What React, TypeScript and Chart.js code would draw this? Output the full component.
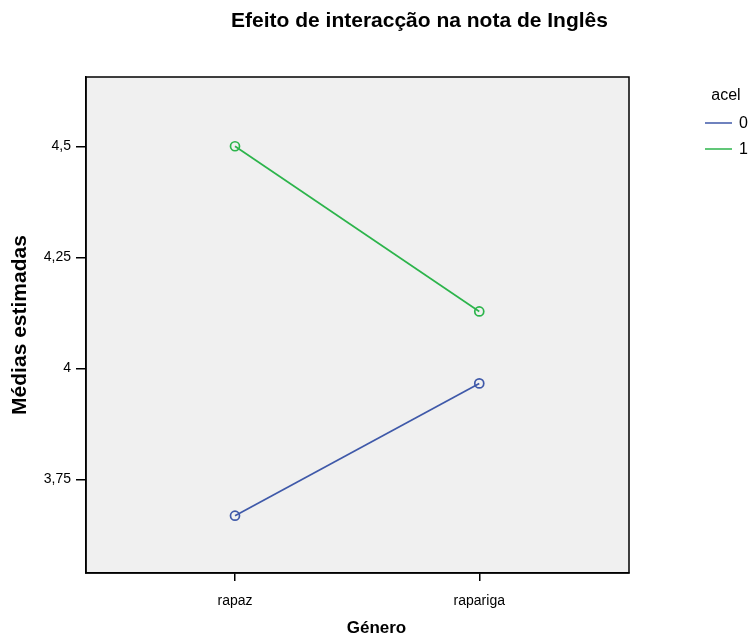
import React, { useEffect, useRef } from "react";
import { Chart, registerables } from "chart.js";

Chart.register(...registerables);

const chartTitle = "Efeito de interacção na nota de Inglês";
const xAxisTitle = "Género";
const yAxisTitle = "Médias estimadas";
const legendTitle = "acel";

const categories = ["rapaz", "rapariga"];
const categoryPositions = [1, 2];

const seriesLabels = ["0", "1"];
const acel0 = [3.668, 3.966];
const acel1 = [4.5, 4.128];

const yTickValues = [3.75, 4, 4.25, 4.5];
const yTickLabels = ["3,75", "4", "4,25", "4,5"];
const yRange = [3.539, 4.656];
const xRange = [0.39, 2.613];

const seriesColors = ["#3f59a9", "#2cb44b"];

const FONT = "'Liberation Sans', Arial, sans-serif";

const decorPlugin = {
  id: "decor",
  beforeDraw(chart: any) {
    const { ctx, chartArea: a } = chart;
    ctx.save();
    ctx.fillStyle = "#ffffff";
    ctx.fillRect(0, 0, chart.width, chart.height);
    ctx.fillStyle = "#f0f0f0";
    ctx.fillRect(a.left, a.top, a.right - a.left, a.bottom - a.top);
    ctx.restore();
  },
  afterDraw(chart: any) {
    const { ctx, chartArea: a } = chart;
    ctx.save();
    // frame
    ctx.strokeStyle = "#000";
    ctx.lineWidth = 1.5;
    ctx.strokeRect(a.left, a.top, a.right - a.left, a.bottom - a.top);
    // title
    ctx.fillStyle = "#000";
    ctx.font = `bold 21px ${FONT}`;
    ctx.textAlign = "center";
    ctx.textBaseline = "middle";
    ctx.fillText(chartTitle, (a.left + chart.width) / 2, 21);
    // x axis title, centred on the canvas
    ctx.font = `bold 17px ${FONT}`;
    ctx.fillText(xAxisTitle, chart.width / 2, 628);
    // legend
    ctx.font = `16px ${FONT}`;
    ctx.textAlign = "center";
    ctx.fillText(legendTitle, 726, 96);
    chart.data.datasets.forEach((ds: any, i: number) => {
      const y = 123 + i * 26;
      ctx.strokeStyle = ds.borderColor;
      ctx.lineWidth = 1.5;
      ctx.beginPath();
      ctx.moveTo(705, y);
      ctx.lineTo(732, y);
      ctx.stroke();
      ctx.textAlign = "left";
      ctx.fillStyle = "#000";
      ctx.fillText(ds.label, 739, y + 1);
    });
    ctx.restore();
  },
};

export default function App() {
  const ref = useRef<HTMLCanvasElement>(null);

  useEffect(() => {
    if (!ref.current) return;
    const makeData = (vals: number[]) =>
      categoryPositions.map((x, i) => ({ x, y: vals[i] }));
    const chart = new Chart(ref.current, {
      type: "line",
      data: {
        datasets: [acel0, acel1].map((vals, i) => ({
          label: seriesLabels[i],
          data: makeData(vals),
          borderColor: seriesColors[i],
          backgroundColor: "rgba(0,0,0,0)",
          pointBorderColor: seriesColors[i],
          pointBackgroundColor: "rgba(0,0,0,0)",
          pointRadius: 4.5,
          pointBorderWidth: 1.7,
          borderWidth: 1.7,
          tension: 0,
          fill: false,
        })),
      },
      options: {
        responsive: false,
        animation: false,
        layout: { padding: { top: 77, right: 124, left: 0, bottom: 0 } },
        plugins: {
          legend: { display: false },
          tooltip: { enabled: false },
          title: { display: false },
        },
        scales: {
          x: {
            type: "linear",
            min: xRange[0],
            max: xRange[1],
            afterBuildTicks: (scale: any) => {
              scale.ticks = categoryPositions.map((v) => ({ value: v }));
            },
            afterFit: (scale: any) => {
              scale.height = 68;
            },
            ticks: {
              autoSkip: false,
              maxRotation: 0,
              padding: 12,
              color: "#000",
              font: { family: FONT, size: 14 },
              callback: (v: any) => {
                const idx = categoryPositions.indexOf(Number(v));
                return idx >= 0 ? categories[idx] : "";
              },
            },
            grid: {
              drawOnChartArea: false,
              drawTicks: true,
              tickLength: 8,
              color: "#000",
              lineWidth: 1.5,
            },
            border: { display: true, color: "#000", width: 1.5 },
            title: { display: false },
          },
          y: {
            type: "linear",
            min: yRange[0],
            max: yRange[1],
            afterBuildTicks: (scale: any) => {
              scale.ticks = yTickValues.map((v) => ({ value: v }));
            },
            afterFit: (scale: any) => {
              scale.width = 86;
            },
            ticks: {
              autoSkip: false,
              padding: 5,
              color: "#000",
              font: { family: FONT, size: 14 },
              callback: (v: any) => {
                const idx = yTickValues.indexOf(Number(v));
                return idx >= 0 ? yTickLabels[idx] : "";
              },
            },
            grid: {
              drawOnChartArea: false,
              drawTicks: true,
              tickLength: 10,
              color: "#000",
              lineWidth: 1.5,
            },
            border: { display: true, color: "#000", width: 1.5 },
            title: {
              display: true,
              text: yAxisTitle,
              color: "#000",
              font: { family: FONT, size: 21, weight: "bold", lineHeight: 1 },
              padding: { top: 10, bottom: 0 },
            },
          },
        },
      },
      plugins: [decorPlugin],
    });
    return () => chart.destroy();
  }, []);

  return (
    <canvas
      ref={ref}
      width={753}
      height={641}
      style={{ position: "absolute", left: 0, top: 0, width: 753, height: 641 }}
    />
  );
}
